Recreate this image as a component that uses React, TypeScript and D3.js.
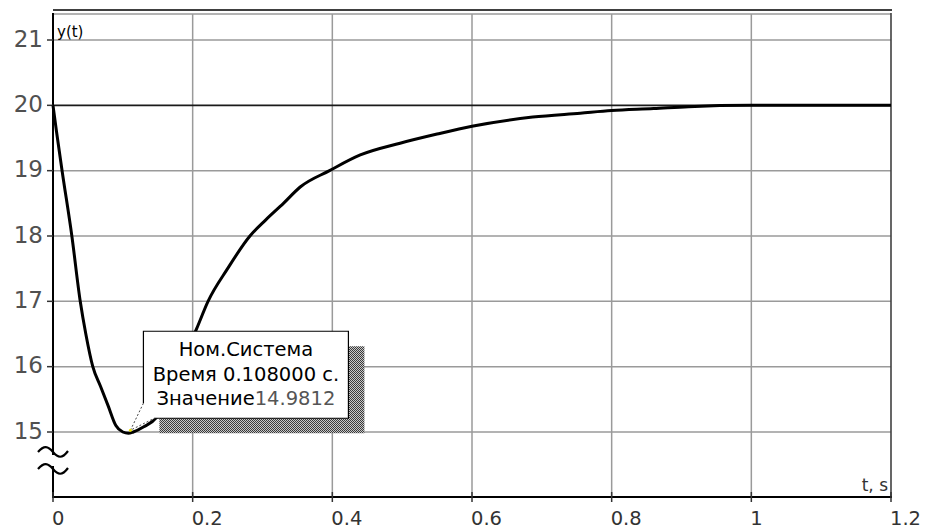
import * as d3 from "d3";
import React from "react";

// time (s) and system output y(t)
const timeS = [0, 0.005, 0.013, 0.027, 0.039, 0.047, 0.057, 0.068, 0.079, 0.09, 0.1, 0.108, 0.115, 0.13, 0.148, 0.175, 0.206, 0.222, 0.25, 0.282, 0.304, 0.33, 0.354, 0.396, 0.44, 0.497, 0.55, 0.6, 0.687, 0.755, 0.8, 0.86, 0.91, 1.0, 1.2];
const response = [20, 19.6, 19.0, 18.0, 17.0, 16.5, 16.0, 15.7, 15.4, 15.1, 15.0, 14.98, 15.0, 15.08, 15.22, 15.85, 16.59, 17.0, 17.5, 18.0, 18.24, 18.5, 18.75, 19.0, 19.24, 19.42, 19.56, 19.68, 19.82, 19.88, 19.92, 19.95, 19.98, 20.0, 20.0];

const xTicks = [0, 0.2, 0.4, 0.6, 0.8, 1, 1.2];
const xTickLabels = ["0", "0.2", "0.4", "0.6", "0.8", "1", "1.2"];
const yTicks = [15, 16, 17, 18, 19, 20, 21];
const yTickLabels = ["15", "16", "17", "18", "19", "20", "21"];

const tipTitle = "Ном.Система";
const tipTime = 0.108;
const tipValue = 14.9812;

const W = 929;
const H = 531;
const left = 53;
const right = 891;
const top = 10;
const bottom = 497;

export default function App() {
  const x = d3.scaleLinear().domain([0, 1.2]).range([left, right]);
  const y = d3.scaleLinear().domain([15, 21]).range([432, 40]);

  const pts: [number, number][] = timeS.map((t, i) => [t, response[i]]);
  const line = d3.line<[number, number]>()
    .x(d => x(d[0]))
    .y(d => y(d[1]))
    .curve(d3.curveMonotoneX);

  const font = "'DejaVu Sans', sans-serif";

  // tooltip geometry relative to the marker
  const mx = x(tipTime) + 2;
  const my = y(tipValue) - 3;
  const bx0 = mx + 13, bx1 = mx + 218, by0 = my - 99, by1 = my - 12;
  const shOff = 16;
  const cx = (bx0 + bx1) / 2;

  return (
    <svg width={W} height={H} style={{ position: "absolute", left: 0, top: 0, background: "#fff" }}>
      <defs>
        <pattern id="dither" width={2} height={2} patternUnits="userSpaceOnUse">
          <rect width={2} height={2} fill="#c8c8c8" />
          <rect width={1} height={1} fill="#3a3a3a" />
          <rect x={1} y={1} width={1} height={1} fill="#3a3a3a" />
        </pattern>
      </defs>

      {/* grid */}
      {xTicks.filter(t => t > 0 && t < 1.2).map(t => (
        <line key={"gx" + t} x1={x(t)} x2={x(t)} y1={14} y2={bottom} stroke="#9a9a9a" strokeWidth={1.5} />
      ))}
      {yTicks.filter(v => v !== 20).map(v => (
        <line key={"gy" + v} x1={left} x2={right} y1={y(v)} y2={y(v)} stroke="#9a9a9a" strokeWidth={1.5} />
      ))}
      <line x1={left} x2={right} y1={y(20)} y2={y(20)} stroke="#1a1a1a" strokeWidth={1.6} />

      {/* frame */}
      <line x1={left} x2={right + 1} y1={top} y2={top} stroke="#000" strokeWidth={1.6} />
      <line x1={left} x2={right} y1={14} y2={14} stroke="#9a9a9a" strokeWidth={1.5} />
      <line x1={right} x2={right} y1={13} y2={bottom} stroke="#404040" strokeWidth={1.6} />
      <line x1={left} x2={left} y1={13} y2={bottom} stroke="#000" strokeWidth={2} />
      <line x1={left - 1} x2={right + 1} y1={bottom} y2={bottom} stroke="#000" strokeWidth={2} />

      {/* axis break */}
      <rect x={left - 2} y={455} width={4} height={11} fill="#fff" />
      <path d={`M${left - 15},452 C${left - 9},445 ${left - 5},446 ${left},452 C${left + 5},458 ${left + 9},459 ${left + 15},451`}
        fill="none" stroke="#000" strokeWidth={2.2} />
      <path d={`M${left - 15},469 C${left - 9},462 ${left - 5},463 ${left},469 C${left + 5},475 ${left + 9},476 ${left + 15},468`}
        fill="none" stroke="#000" strokeWidth={2.2} />

      {/* y ticks */}
      {yTicks.map((v, i) => (
        <g key={"yt" + v}>
          <line x1={left - 6} x2={left} y1={y(v)} y2={y(v)} stroke="#333" strokeWidth={1.5} />
          <text x={43} y={y(v) + 6.5} textAnchor="end" fontFamily={font} fontSize={23} fill="#505050">{yTickLabels[i]}</text>
        </g>
      ))}
      {/* x ticks */}
      {xTicks.map((t, i) => (
        <g key={"xt" + t}>
          <line x1={x(t)} x2={x(t)} y1={bottom - 5} y2={bottom + 5} stroke="#333" strokeWidth={1.5} />
          <text x={x(t) - 1} y={525} textAnchor="start" fontFamily={font} fontSize={19.5} fill="#333">{xTickLabels[i]}</text>
        </g>
      ))}

      <text x={57} y={37} fontFamily={font} fontSize={15} fill="#000">y(t)</text>
      <text x={888} y={491} textAnchor="end" fontFamily={font} fontSize={17} fill="#333">t, s</text>

      {/* response curve */}
      <path d={line(pts) ?? ""} fill="none" stroke="#000" strokeWidth={3} strokeLinejoin="round" />

      {/* tooltip */}
      <rect x={bx0 + shOff} y={by0 + 15} width={bx1 - bx0} height={by1 - by0} fill="url(#dither)" />
      <path d={`M${bx0},${by0} H${bx1} V${by1} H${bx0 + 11} L${mx},${my} L${bx0},${by1 - 15} Z`} fill="#fff" stroke="none" />
      <path d={`M${bx0},${by1 - 15} V${by0} H${bx1} V${by1} H${bx0 + 11}`} fill="none" stroke="#000" strokeWidth={1.2} />
      <path d={`M${bx0},${by1 - 15} L${mx},${my} L${bx0 + 11},${by1}`} fill="none" stroke="#444" strokeWidth={1} strokeDasharray="2,2" />
      <circle cx={mx} cy={my} r={1.5} fill="#e8e000" />
      <text x={cx} y={by0 + 25} textAnchor="middle" fontFamily={font} fontSize={19.5} fill="#000">{tipTitle}</text>
      <text x={cx} y={by0 + 50} textAnchor="middle" fontFamily={font} fontSize={19.5} fill="#000">{`Время ${tipTime.toFixed(6)} с.`}</text>
      <text x={cx} y={by0 + 74} textAnchor="middle" fontFamily={font} fontSize={19.5} fill="#000">
        Значение<tspan fill="#555">{tipValue.toFixed(4)}</tspan>
      </text>
    </svg>
  );
}
